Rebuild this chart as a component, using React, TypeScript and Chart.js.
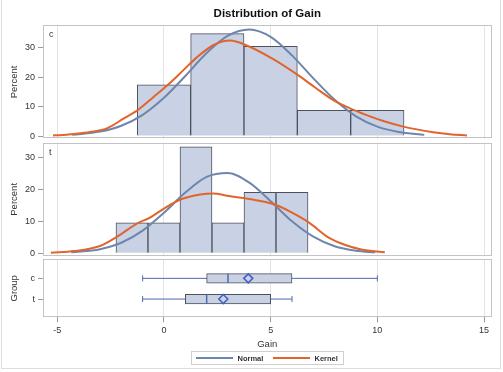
import React, { useEffect, useRef } from "react";
import { Chart, registerables } from "chart.js";

Chart.register(...registerables);

// ---- axis ticks ----
const gainTicks = [-5, 0, 5, 10, 15];
const percentTicks = [0, 10, 20, 30];

// ---- histogram bins (midpoints) and percentages ----
const cBinMid = [0, 2.5, 5, 7.5, 10];
const cPercent = [17.39, 34.78, 30.43, 8.7, 8.7];
const tBinMid = [-1.5, 0, 1.5, 3, 4.5, 6];
const tPercent = [9.52, 9.52, 33.33, 9.52, 19.05, 19.05];

// ---- fitted normal curves (percent scale) ----
const cNormalX = [-4.3, -3, -2, -1, 0, 1, 2, 3, 4, 5, 6, 7, 8, 9, 10, 11, 12.2];
const cNormalY = [0.4, 1.5, 3.5, 7.2, 13.0, 20.4, 28.2, 34.1, 36.2, 33.7, 27.4, 19.6, 12.3, 6.7, 3.2, 1.4, 0.4];
const tNormalX = [-4.35, -3, -2, -1, 0, 1, 2, 3, 4, 5, 6, 7, 8, 9, 9.9];
const tNormalY = [0.3, 1.3, 3.3, 7.1, 12.7, 19.0, 23.9, 25.1, 22.1, 16.3, 10.0, 5.2, 2.2, 0.8, 0.3];

// ---- kernel density curves (percent scale) ----
const cKernelX = [-5.2, -4.9, -4.25, -3.45, -2.65, -1.9, -1.25, -0.5, 0.2, 0.9, 1.55, 2.35, 3.1, 3.8, 5.1, 6.3, 7.1, 7.94, 8.72, 9.5, 10.28, 11.22, 12.62, 13.4, 14.2];
const cKernelY = [0.2, 0.3, 0.7, 1.4, 2.7, 5.9, 8.7, 13.2, 17.5, 22.3, 26.8, 31.0, 32.4, 31.0, 26.2, 20.6, 16.4, 12.2, 9.4, 7.1, 5.1, 3.2, 1.3, 0.6, 0.2];
const tKernelX = [-5.3, -4.2, -3.0, -2.2, -1.25, -0.7, 0.0, 0.8, 1.7, 2.3, 3.05, 3.8, 5.25, 6.0, 6.8, 7.7, 8.5, 9.25, 10.35];
const tKernelY = [0.2, 0.7, 2.3, 5.2, 9.4, 11.0, 14.0, 16.9, 18.4, 18.7, 17.9, 17.2, 15.1, 12.7, 9.6, 5.0, 2.6, 1.2, 0.3];

// ---- box plot summary per group ----
const groups = ["c", "t"];
const boxMin = [-1, -1];
const boxQ1 = [2, 1];
const boxMedian = [3, 2];
const boxQ3 = [6, 5];
const boxMax = [10, 6];
const boxMean = [3.95, 2.78];

// ---- styling ----
const FONT = "'Liberation Sans', Arial, Helvetica, sans-serif";
const BLUE = "#6e86ad";
const ORANGE = "#e2642d";
const BOX_BLUE = "#4f68b0";
const BAR_FILL = "#c9d2e4";
const BAR_EDGE = "#4c515c";
const GRID = "#e3e3e3";
const FRAME = "#c4c4c4";
const TEXT = "#333333";
const TICK = "#9a9a9a";

const X_MIN = -5.67;
const X_MAX = 15.35;
const Y_AXIS_WIDTH = 43;

const zip = (xs: number[], ys: number[]) => xs.map((x, i) => ({ x, y: ys[i] }));

// scales keep a fixed size and ask for no extra room for their edge labels
const noEdgePadding = (s: any) => {
  s.paddingTop = 0;
  s.paddingBottom = 0;
  s.paddingLeft = 0;
  s.paddingRight = 0;
};

// Frame around each panel, panel label and the main heading
const panelFrame = {
  id: "panelFrame",
  afterDraw(chart: any, _args: any, opts: any) {
    const { ctx, chartArea: a } = chart;
    ctx.save();
    ctx.strokeStyle = FRAME;
    ctx.lineWidth = 1;
    ctx.strokeRect(
      Math.round(a.left) + 0.5,
      Math.round(a.top) + 0.5,
      Math.round(a.right - a.left) - 1,
      Math.round(a.bottom - a.top) - 1
    );
    if (opts && opts.label) {
      ctx.fillStyle = TEXT;
      ctx.font = `9px ${FONT}`;
      ctx.textAlign = "left";
      ctx.textBaseline = "alphabetic";
      ctx.fillText(opts.label, a.left + 6, a.top + 11.8);
    }
    if (opts && opts.heading) {
      ctx.fillStyle = "#111111";
      ctx.font = `bold 11.5px ${FONT}`;
      ctx.textAlign = "center";
      ctx.textBaseline = "alphabetic";
      ctx.fillText(opts.heading, (a.left + a.right) / 2, 17.3);
    }
    ctx.restore();
  },
};

const sharedX = (withLabels: boolean) => ({
  type: "linear",
  min: X_MIN,
  max: X_MAX,
  offset: false,
  afterBuildTicks: (s: any) => {
    s.ticks = gainTicks.map((v) => ({ value: v }));
  },
  afterFit: (s: any) => {
    s.height = withLabels ? 33 : 0;
    noEdgePadding(s);
  },
  ticks: {
    display: withLabels,
    font: { size: 9, family: FONT },
    color: TEXT,
    padding: 3,
    maxRotation: 0,
  },
  grid: {
    color: GRID,
    offset: false,
    drawTicks: withLabels,
    tickLength: 5,
    tickColor: TICK,
  },
  border: { display: false },
  title: withLabels
    ? { display: true, text: "Gain", font: { size: 9.5, family: FONT }, color: TEXT, padding: { top: 0, bottom: 0 } }
    : { display: false },
});

function histogramConfig(
  mid: number[],
  pct: number[],
  nx: number[],
  ny: number[],
  kx: number[],
  ky: number[],
  label: string,
  padTop: number,
  padBottom: number,
  yMin: number,
  yMax: number,
  heading?: string
): any {
  return {
    type: "bar",
    data: {
      datasets: [
        {
          type: "line",
          label: "Kernel",
          data: zip(kx, ky),
          borderColor: ORANGE,
          borderWidth: 2,
          pointRadius: 0,
          cubicInterpolationMode: "monotone",
          order: 1,
        },
        {
          type: "line",
          label: "Normal",
          data: zip(nx, ny),
          borderColor: BLUE,
          borderWidth: 2,
          pointRadius: 0,
          cubicInterpolationMode: "monotone",
          order: 2,
        },
        {
          type: "bar",
          label: "Percent",
          data: zip(mid, pct),
          backgroundColor: BAR_FILL,
          borderColor: BAR_EDGE,
          borderWidth: 1,
          barPercentage: 1,
          categoryPercentage: 1,
          order: 3,
        },
      ],
    },
    options: {
      animation: false,
      responsive: false,
      events: [],
      layout: { autoPadding: false, padding: { left: 0, right: 11.5, top: padTop, bottom: padBottom } },
      plugins: {
        legend: { display: false },
        tooltip: { enabled: false },
        panelFrame: { label, heading },
      },
      scales: {
        x: sharedX(false),
        y: {
          type: "linear",
          min: yMin,
          max: yMax,
          afterBuildTicks: (s: any) => {
            s.ticks = percentTicks.map((v) => ({ value: v }));
          },
          afterFit: (s: any) => {
            s.width = Y_AXIS_WIDTH;
            noEdgePadding(s);
          },
          ticks: { font: { size: 9, family: FONT }, color: TEXT, padding: 3 },
          grid: { drawOnChartArea: false, tickLength: 5, tickColor: TICK },
          border: { display: false },
          title: {
            display: true,
            text: "Percent",
            font: { size: 9.5, family: FONT },
            color: TEXT,
            padding: { top: 9, bottom: 0 },
          },
        },
      },
    },
    plugins: [panelFrame],
  };
}

function boxConfig(): any {
  const idx = groups.map((_, i) => i + 1);
  const whiskers = groups.map((g, i) => ({
    type: "line",
    label: `whisker ${g}`,
    data: [
      { x: boxMin[i], y: idx[i] },
      { x: boxMax[i], y: idx[i] },
    ],
    borderColor: BOX_BLUE,
    borderWidth: 1,
    pointStyle: "line",
    pointRotation: 90,
    pointRadius: 3,
    pointBorderColor: BOX_BLUE,
    pointBorderWidth: 1,
    order: 4,
  }));
  return {
    type: "bar",
    data: {
      datasets: [
        ...whiskers,
        {
          type: "bar",
          label: "box",
          indexAxis: "y",
          data: groups.map((_, i) => ({ x: [boxQ1[i], boxQ3[i]], y: idx[i] })),
          backgroundColor: BAR_FILL,
          borderColor: BAR_EDGE,
          borderWidth: 1,
          borderSkipped: false,
          barThickness: 9.5,
          order: 3,
        },
        {
          type: "line",
          label: "median",
          data: groups.map((_, i) => ({ x: boxMedian[i], y: idx[i] })),
          showLine: false,
          pointStyle: "line",
          pointRotation: 90,
          pointRadius: 4.7,
          pointBorderColor: BOX_BLUE,
          pointBorderWidth: 1.5,
          order: 2,
        },
        {
          type: "line",
          label: "mean",
          data: groups.map((_, i) => ({ x: boxMean[i], y: idx[i] })),
          showLine: false,
          pointStyle: "rectRot",
          pointRadius: 4.5,
          pointBackgroundColor: BAR_FILL,
          pointBorderColor: "#3f5fc4",
          pointBorderWidth: 1.5,
          order: 1,
        },
      ],
    },
    options: {
      animation: false,
      responsive: false,
      events: [],
      layout: { autoPadding: false, padding: { left: 0, right: 11.5, top: 1.3, bottom: 21.7 } },
      plugins: {
        legend: { display: false },
        tooltip: { enabled: false },
        panelFrame: {},
      },
      scales: {
        x: sharedX(true),
        y: {
          type: "linear",
          reverse: true,
          min: 0.08,
          max: 2.88,
          offset: false,
          afterBuildTicks: (s: any) => {
            s.ticks = idx.map((v) => ({ value: v }));
          },
          afterFit: (s: any) => {
            s.width = Y_AXIS_WIDTH;
            noEdgePadding(s);
          },
          ticks: {
            font: { size: 9, family: FONT },
            color: TEXT,
            padding: 3,
            callback: (v: any) => groups[Math.round(Number(v)) - 1] ?? "",
          },
          grid: { drawOnChartArea: false, offset: false, tickLength: 5, tickColor: TICK },
          border: { display: false },
          title: {
            display: true,
            text: "Group",
            font: { size: 9.5, family: FONT },
            color: TEXT,
            padding: { top: 9, bottom: 0 },
          },
        },
      },
    },
    plugins: [panelFrame],
  };
}

export default function App() {
  const cRef = useRef<HTMLCanvasElement>(null);
  const tRef = useRef<HTMLCanvasElement>(null);
  const bRef = useRef<HTMLCanvasElement>(null);

  useEffect(() => {
    const charts: Chart[] = [];
    if (cRef.current) {
      charts.push(
        new Chart(
          cRef.current,
          histogramConfig(cBinMid, cPercent, cNormalX, cNormalY, cKernelX, cKernelY, "c", 25.3, 2.3, -0.9, 37.6, "Distribution of Gain")
        )
      );
    }
    if (tRef.current) {
      charts.push(
        new Chart(
          tRef.current,
          histogramConfig(tBinMid, tPercent, tNormalX, tNormalY, tKernelX, tKernelY, "t", 1.7, 3, -0.84, 34.6)
        )
      );
    }
    if (bRef.current) {
      charts.push(new Chart(bRef.current, boxConfig()));
    }
    return () => charts.forEach((c) => c.destroy());
  }, []);

  const legendText: React.CSSProperties = {
    position: "absolute",
    top: 2,
    fontFamily: FONT,
    fontSize: 7.5,
    fontWeight: "bold",
    lineHeight: "9px",
    color: "#333",
    whiteSpace: "nowrap",
  };

  return (
    <div
      style={{
        position: "fixed",
        left: 0,
        top: 0,
        width: 503,
        height: 372,
        background: "#ffffff",
        overflow: "hidden",
      }}
    >
      <div
        style={{
          position: "absolute",
          left: 1,
          top: -1,
          width: 500,
          height: 370,
          border: "1px solid #dedede",
          boxSizing: "border-box",
        }}
      />
      <canvas ref={cRef} width={503} height={141} style={{ position: "absolute", left: 0, top: 0 }} />
      <canvas ref={tRef} width={503} height={118} style={{ position: "absolute", left: 0, top: 141 }} />
      <canvas ref={bRef} width={503} height={114} style={{ position: "absolute", left: 0, top: 258 }} />
      <div
        style={{
          position: "absolute",
          left: 190.5,
          top: 351,
          width: 153,
          height: 14,
          border: "1px solid #cfcfcf",
          boxSizing: "border-box",
        }}
      >
        <span style={{ position: "absolute", left: 4, top: 5, width: 37, height: 0, borderTop: `2px solid ${BLUE}` }} />
        <span style={{ ...legendText, left: 46 }}>Normal</span>
        <span style={{ position: "absolute", left: 81, top: 5, width: 37, height: 0, borderTop: `2px solid ${ORANGE}` }} />
        <span style={{ ...legendText, left: 123 }}>Kernel</span>
      </div>
    </div>
  );
}
